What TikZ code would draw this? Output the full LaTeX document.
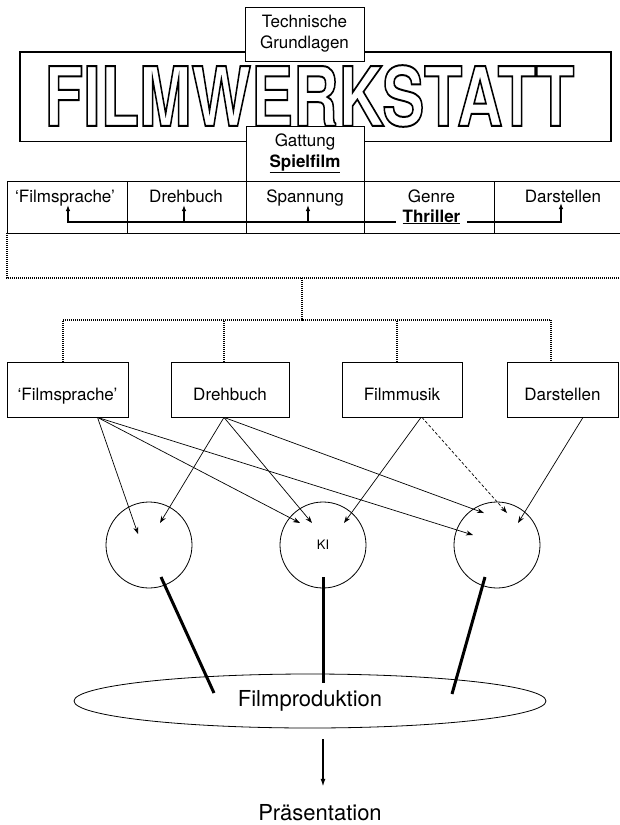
\documentclass[tikz,border=0pt]{standalone}
\usepackage{fontspec}
\setmainfont{TeX Gyre Heros}
\usepackage{tikz}
\usetikzlibrary{arrows.meta,%
                calc,%
                shapes.geometric}
% hollow letters for the title
\newcommand\hollow[1]{\special{pdf:literal direct 1 Tr 1.5 w}#1\special{pdf:literal direct 0 Tr}}

\begin{document}
\begin{tikzpicture}
  [x=1pt,y=-1pt,
   box/.style={draw,line width=.8pt,fill=white,align=center,inner sep=0pt,
     minimum height=55pt,font=\fontsize{17}{21}\selectfont},
   rowbox/.style={box,text height=21pt,text depth=0pt},
   celltext/.style={inner sep=0pt,anchor=base,font=\fontsize{17}{21}\selectfont},
   hub/.style={draw,circle,line width=.8pt,minimum size=86pt,inner sep=0pt,
     font=\fontsize{13}{15}\selectfont},
   bigtext/.style={inner sep=0pt,font=\fontsize{22}{26}\selectfont},
   rowarrow/.style={line width=1.3pt,-{Latex[length=6pt,width=4.5pt]}},
   feed/.style={line width=.7pt,-{Stealth[length=7pt,width=5pt]}},
   treeline/.style={line width=1.3pt,dash pattern=on 1pt off 1pt},
   strand/.style={line width=3pt}]
  \useasboundingbox (0,0) rectangle (619,825);
  % title block
  \draw[line width=1.6pt] (20,52) rectangle (611,141.5);
  \node[inner sep=0pt,font=\fontsize{63}{63}\selectfont\bfseries]
    (title) at (309.5,96) {\scalebox{1}[1.3]{\hollow{FILMWERKSTATT}}};
  \node[box,minimum width=119pt,minimum height=54pt] (tech) at (304.5,34) {Technische\\Grundlagen};
  \node[box,minimum width=118pt] (gattung) at (305,153.5) {Gattung\\\underline{\textbf{Spielfilm}}};
  % first row
  \draw[line width=.8pt] (7,181) rectangle (640,233);
  \foreach \x in {127,246,364,494}
    \draw[line width=.8pt] (\x,181) -- (\x,233);
  \node[celltext] (fs1) at (65,202) {`Filmsprache'};
  \node[celltext] (dreh1) at (186,202) {Drehbuch};
  \node[celltext] (spann1) at (305,202) {Spannung};
  \node[celltext] (genre) at (431.5,202) {Genre};
  \node[celltext,inner sep=6.5pt] (thriller) at (431.5,222) {\underline{\textbf{Thriller}}};
  \node[celltext] (dar1) at (563,202) {Darstellen};
  \draw[rowarrow] (thriller.base west) -| ($(fs1.base)+(3,3)$);
  \draw[rowarrow] (thriller.base east) -| ($(dar1.base)+(-2,1)$);
  \foreach \c/\dx in {dreh1/-2,spann1/3}
    \draw[rowarrow] ($(\c.base |- thriller.base)+(\dx,0)$) -- ($(\c.base)+(\dx,3)$);
  % dotted frame and tree
  \draw[treeline] (7,233) -- (7,278) -- (640,278);
  \coordinate (treetop) at (302,278);
  \coordinate (split) at (302,320);
  \node[rowbox,minimum width=121pt] (fs2) at (67.5,389.5) {`Filmsprache'};
  \node[rowbox,minimum width=118pt] (dreh2) at (230,389.5) {Drehbuch};
  \node[rowbox,minimum width=120pt] (musik2) at (402,389.5) {Filmmusik};
  \node[rowbox,minimum width=111pt] (dar2) at (562.5,389.5) {Darstellen};
  \draw[treeline] (treetop) -- (split);
  \draw[treeline] ([xshift=-4.5pt]fs2.north) |- (split) -| ([xshift=-11.5pt]dar2.north);
  \draw[treeline] ([xshift=-6pt]dreh2.north) -- +(0,-42);
  \draw[treeline] ([xshift=-5pt]musik2.north) -- +(0,-42);
  % circles
  \node[hub] (c1) at (149,545) {};
  \node[hub] (c2) at (323,545) {KI};
  \node[hub] (c3) at (497,545) {};
  \coordinate (t11) at ($(c1)+(-11,-11)$);
  \coordinate (t12) at ($(c1)+(11,-22)$);
  \coordinate (t21) at ($(c2)+(-23,-22)$);
  \coordinate (t22) at ($(c2)+(-11,-22)$);
  \coordinate (t23) at ($(c2)+(21,-22)$);
  \coordinate (t31) at ($(c3)+(-24,-10)$);
  \coordinate (t32) at ($(c3)+(-13,-32)$);
  \coordinate (t33) at ($(c3)+(10,-32)$);
  \coordinate (t34) at ($(c3)+(21,-22)$);
  \foreach \from/\dx/\to in {fs2/30/t11,fs2/30/t21,fs2/30/t31,dreh2/-6/t12,dreh2/-6/t22,dreh2/-6/t32,musik2/19/t23,dar2/20.5/t34}
    \draw[feed] ([xshift=\dx pt]\from.south) -- (\to);
  \draw[feed,dash pattern=on 3pt off 2pt] ([xshift=20pt]musik2.south) -- (t33);
  % production
  \node[draw,ellipse,line width=.8pt,minimum width=472pt,minimum height=54pt,bigtext] (prod) at (310,701) {Filmproduktion};
  \draw[strand] ($(c1)+(12,32)$) -- ($(prod)+(-96,-8)$);
  \draw[strand] ($(c2)+(0,32)$) -- ($(prod)+(13,-18)$);
  \draw[strand] ($(c3)+(-12,32)$) -- ($(prod)+(142,-7)$);
  \node[bigtext,anchor=base] (praes) at (320,820) {Präsentation};
  \draw[line width=1.5pt,-{Latex[length=8pt,width=5pt]}] ([xshift=13pt,yshift=-11pt]prod.south) -- ([xshift=3pt,yshift=17pt]praes.north);
\end{tikzpicture}
\end{document}
